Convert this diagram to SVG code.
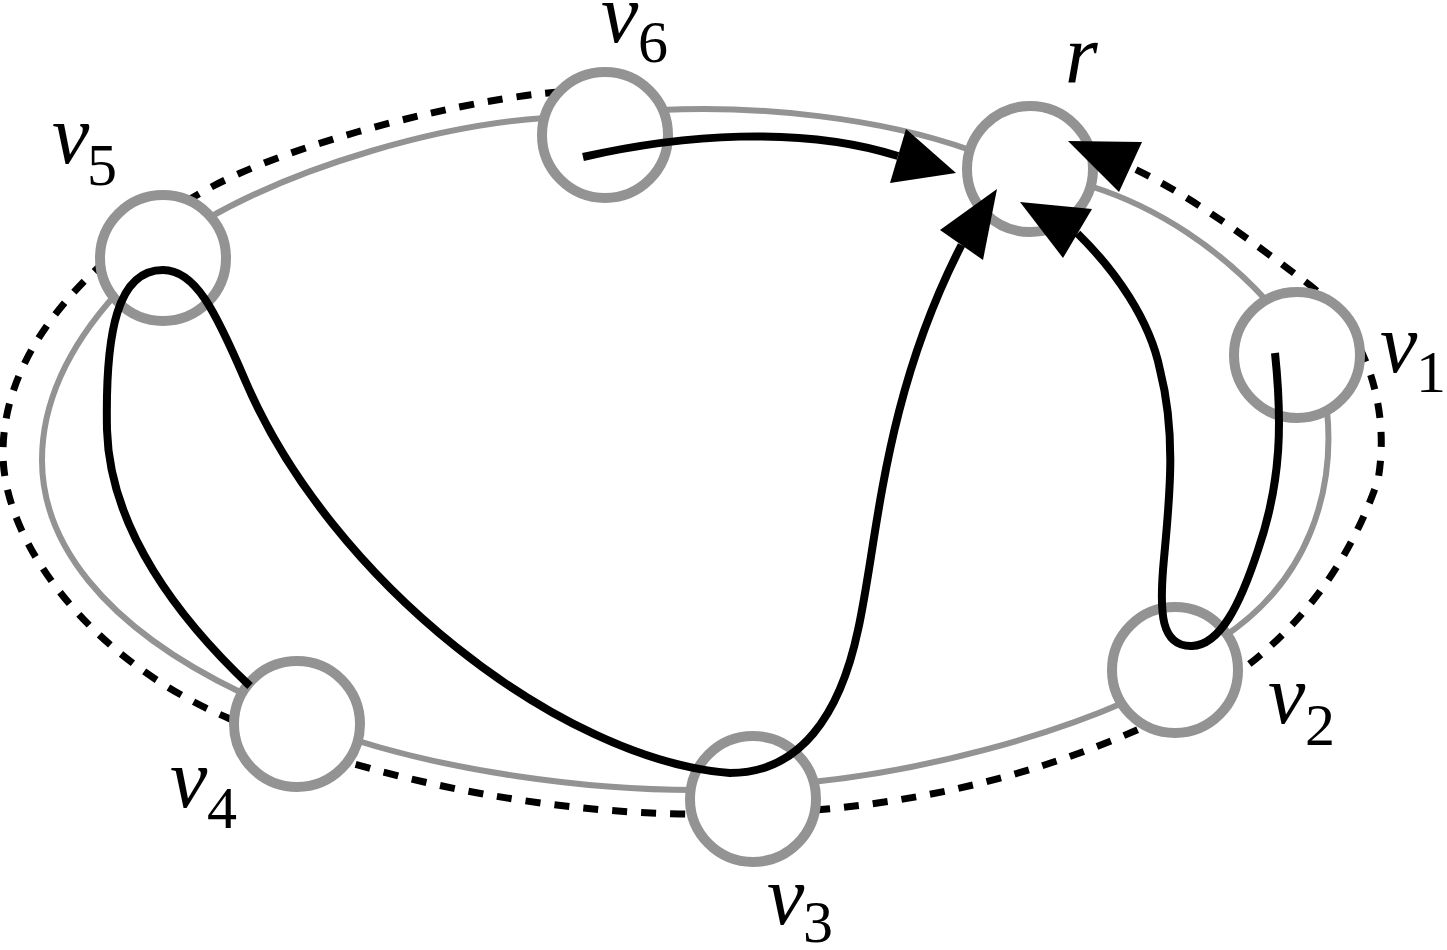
<svg xmlns="http://www.w3.org/2000/svg" width="1447" height="950" viewBox="0 0 1447 950">
<style>
.edge{fill:none;stroke:#939393;stroke-width:6}
.dash{fill:none;stroke:#000;stroke-width:7;stroke-dasharray:15 14}
.path{fill:none;stroke:#000;stroke-width:8}
.arrow{fill:#000;stroke:none}
.node{fill:#fff;stroke:#939393;stroke-width:10}
.lbl{font-family:"Liberation Serif","Times New Roman",serif;font-style:italic;font-size:84px;fill:#000}
.sub{font-family:"Liberation Serif","Times New Roman",serif;font-size:60px;fill:#000}
</style>
<rect width="1447" height="950" fill="#fff"/>
<g id="edges">
<path class="edge" d="M205,220 C300,165 440,125 545,118"/>
<path class="edge" d="M660,110 C760,105 880,118 970,150"/>
<path class="edge" d="M1090,186 C1160,208 1220,250 1266,300"/>
<path class="edge" d="M1327,410 C1335,490 1310,580 1222,638"/>
<path class="edge" d="M1125,702 C1050,735 930,770 812,782"/>
<path class="edge" d="M355,740 C450,770 580,790 695,790"/>
<path class="edge" d="M242,693 C100,625 42,540 42,460 C42,400 70,345 116,294"/>
<path class="dash" d="M560,92 C480,97 290,140 197,195 C120,240 5,330 3,450 C1,540 90,660 228,718 C330,765 500,810 680,814 C850,818 1000,790 1137,730 C1230,690 1330,620 1378,480 C1392,400 1360,320 1303,280 C1250,240 1190,195 1130.5,167"/>
</g>
<g id="node-v6"><circle class="node" cx="605" cy="135" r="63"/><text class="lbl" x="601" y="42">v</text><text class="sub" x="638" y="62">6</text></g>
<g id="node-r"><circle class="node" cx="1030" cy="169" r="63"/><text class="lbl" x="1065" y="83">r</text></g>
<g id="node-v5"><circle class="node" cx="163" cy="258" r="63"/><text class="lbl" x="52" y="163">v</text><text class="sub" x="87" y="185">5</text></g>
<g id="node-v1"><circle class="node" cx="1297" cy="355" r="63"/><text class="lbl" x="1380" y="372">v</text><text class="sub" x="1416" y="392">1</text></g>
<g id="node-v2"><circle class="node" cx="1175" cy="670" r="63"/><text class="lbl" x="1268" y="723">v</text><text class="sub" x="1305" y="745">2</text></g>
<g id="node-v4"><circle class="node" cx="297" cy="724" r="63"/><text class="lbl" x="170" y="807">v</text><text class="sub" x="207" y="828">4</text></g>
<g id="node-v3"><circle class="node" cx="753" cy="799" r="63"/><text class="lbl" x="767" y="924">v</text><text class="sub" x="803" y="942">3</text></g>
<g id="connectors">
<path class="path" d="M583,157 C680,135 800,125 898,156"/>
<path class="path" d="M250,686 C180,620 110,530 107,430 C105,330 118,270 163,270 C195,270 215,310 245,380 C330,580 560,760 730,773 C800,773 840,715 858,630 C878,540 882,400 961.5,245"/>
<path class="path" d="M1275,353 C1282,420 1282,480 1258,550 C1240,605 1220,645 1192,646 C1160,647 1160,610 1163,570 C1168,510 1178,440 1160,370 C1150,320 1115,270 1077.5,233.5"/>
<polygon class="arrow" points="956,173 890,183 906,129"/>
<polygon class="arrow" points="997,189 940,230 983,260"/>
<polygon class="arrow" points="1020,202 1092,209 1063,258"/>
<polygon class="arrow" points="1068,141 1142,142 1119,192"/>
</g>
</svg>
